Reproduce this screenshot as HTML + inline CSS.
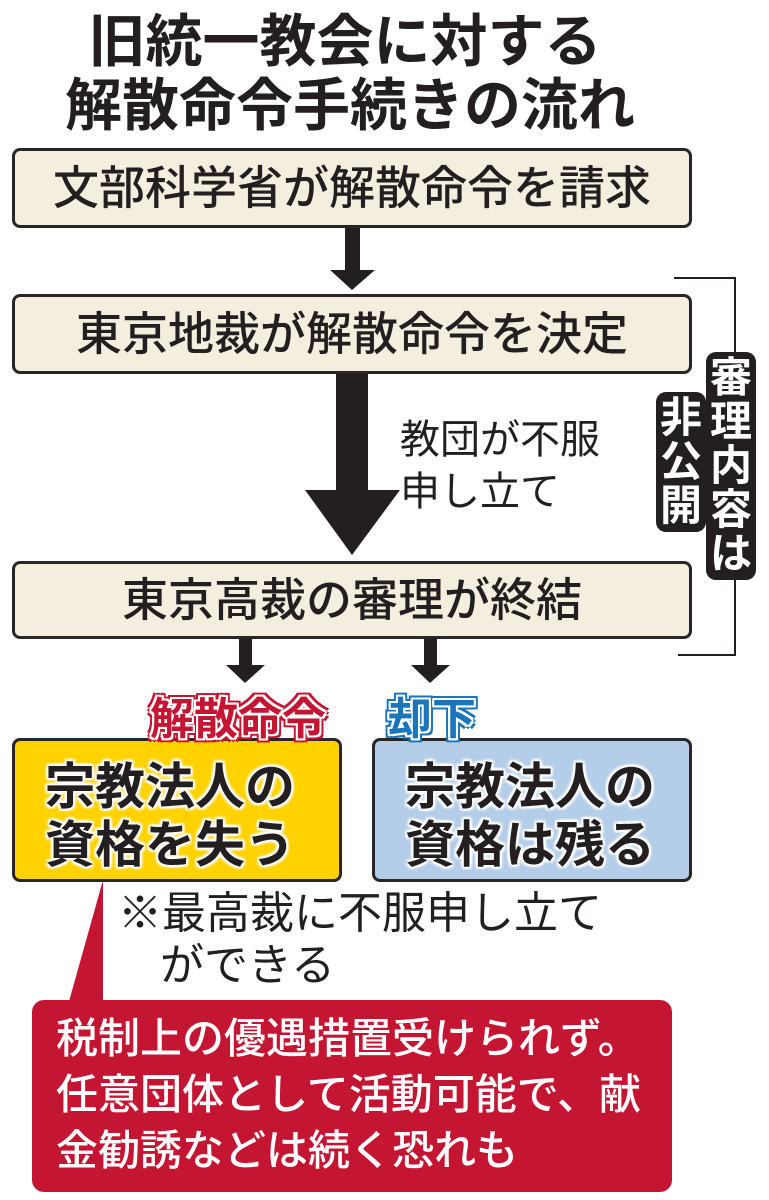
<!DOCTYPE html>
<html><head><meta charset="utf-8"><style>
body{margin:0;width:769px;height:1200px;background:#fff;position:relative;overflow:hidden;font-family:"Liberation Sans","Noto Sans CJK JP",sans-serif;color:#231f20}
.a{position:absolute;white-space:nowrap;line-height:1}
.box{position:absolute;border:3px solid #2a2526;border-radius:8px;box-sizing:border-box}
.bx{background:#f3eedd}
.t{font-size:46px;font-weight:500;text-align:center;width:100%;top:50%;transform:translateY(-50%)}
.o{font-weight:700;text-shadow:0 0 3px #fff,0 0 3px #fff,2px 2px 2px #fff,-2px -2px 2px #fff,2px -2px 2px #fff,-2px 2px 2px #fff}
.v{position:absolute;background:#231f20;color:#fff;font-weight:700;font-size:42px;line-height:44px;width:50px;text-align:center;border-radius:10px}
.lr{text-shadow:2px 0 0 #fff,-2px 0 0 #fff,0 2px 0 #fff,0 -2px 0 #fff,2px 2px 0 #fff,-2px -2px 0 #fff,2px -2px 0 #fff,-2px 2px 0 #fff,4px 0 0 var(--c),-4px 0 0 var(--c),0 4px 0 var(--c),0 -4px 0 var(--c),4px 4px 0 var(--c),-4px -4px 0 var(--c),4px -4px 0 var(--c),-4px 4px 0 var(--c)}
</style></head><body>
<div class="a" style="left:0;width:690px;text-align:center;top:14px;font-size:57px;font-weight:700">旧統一教会に対する</div>
<div class="a" style="left:0;width:700px;text-align:center;top:78px;font-size:57px;font-weight:700">解散命令手続きの流れ</div>

<div class="box bx" style="left:12px;top:148px;width:680px;height:80px"><div class="a t">文部科学省が解散命令を請求</div></div>
<div class="box bx" style="left:12px;top:294px;width:680px;height:80px"><div class="a t">東京地裁が解散命令を決定</div></div>
<div class="box bx" style="left:12px;top:561px;width:680px;height:78px"><div class="a t">東京高裁の審理が終結</div></div>

<svg style="position:absolute;left:0;top:0" width="769" height="1200">
<g fill="#231f20">
<rect x="345" y="228" width="15" height="44"/><polygon points="330,270 375,270 352,290"/>
<rect x="336" y="374" width="32" height="120"/><polygon points="305,490 400,490 352,555"/>
<rect x="239" y="639" width="13" height="28"/><polygon points="226,665 265,665 245,683"/>
<rect x="424" y="639" width="13" height="28"/><polygon points="411,665 450,665 430,683"/>
</g>
<polyline points="674,278 735,278 735,655 678,655" fill="none" stroke="#231f20" stroke-width="2"/>
<polygon points="103,880 103,1005 68,1005" fill="#c41632"/>
</svg>

<div class="a" style="left:400px;top:420px;font-size:40px">教団が不服</div>
<div class="a" style="left:400px;top:472px;font-size:40px">申し立て</div>

<div class="v" style="left:706px;top:352px;padding:4px 0">審<br>理<br>内<br>容<br>は</div>
<div class="v" style="left:656px;top:392px;padding:4px 0">非<br>公<br>開</div>

<div class="box" style="left:12px;top:738px;width:330px;height:144px;background:#ffd200"></div>
<div class="box" style="left:372px;top:738px;width:320px;height:144px;background:#b4cde8"></div>
<div class="a o" style="left:45px;top:762px;font-size:50px">宗教法人の</div>
<div class="a o" style="left:45px;top:820px;font-size:50px">資格を失う</div>
<div class="a o" style="left:405px;top:762px;font-size:50px">宗教法人の</div>
<div class="a o" style="left:405px;top:820px;font-size:50px">資格は残る</div>
<div class="a lr" style="--c:#c41632;left:150px;top:698px;font-size:44px;font-weight:700;color:#c41632">解散命令</div>
<div class="a lr" style="--c:#1a75bb;left:388px;top:698px;font-size:44px;font-weight:700;color:#1a75bb">却下</div>

<div class="a" style="left:118px;top:892px;font-size:44px">※最高裁に不服申し立て</div>
<div class="a" style="left:160px;top:944px;font-size:44px">ができる</div>

<div style="position:absolute;left:32px;top:1000px;width:640px;height:192px;background:#c41632;border-radius:12px"></div>
<div class="a" style="left:56px;top:1018px;font-size:42px;color:#fff;font-weight:500">税制上の優遇措置受けられず。</div>
<div class="a" style="left:56px;top:1074px;font-size:42px;color:#fff;font-weight:500">任意団体として活動可能で、献</div>
<div class="a" style="left:56px;top:1130px;font-size:42px;color:#fff;font-weight:500">金勧誘などは続く恐れも</div>
</body></html>
